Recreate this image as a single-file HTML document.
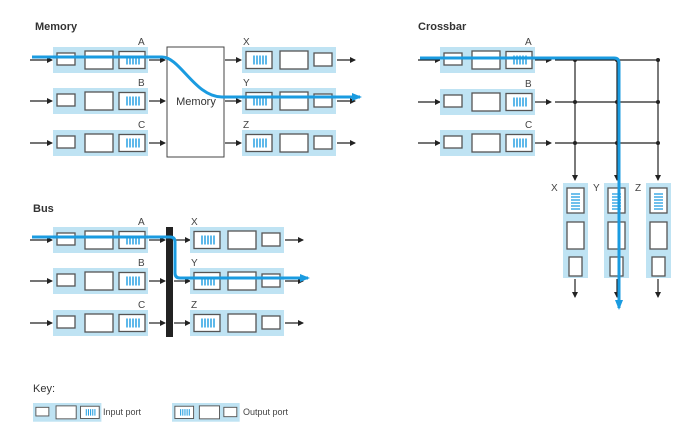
<!DOCTYPE html>
<html><head><meta charset="utf-8"><style>
html,body{margin:0;padding:0;background:#fff;}
svg{display:block;font-family:"Liberation Sans",sans-serif;}
.t{font-weight:bold;font-size:11px;fill:#333;}
.l{font-size:10px;fill:#444;}
</style></head><body>
<svg width="695" height="433" viewBox="0 0 695 433" xmlns="http://www.w3.org/2000/svg">
<defs>
<marker id="ah" markerWidth="6" markerHeight="6" refX="5" refY="3" orient="auto" markerUnits="userSpaceOnUse"><path d="M0,0 L6,3 L0,6z" fill="#222"/></marker>
<marker id="bh" markerWidth="10" markerHeight="8" refX="8" refY="4" orient="auto" markerUnits="userSpaceOnUse"><path d="M0,0 L10,4 L0,8z" fill="#1a9be0"/></marker>
<g id="q"><rect x="0" y="0" width="26" height="17" fill="#fff" stroke="#555" stroke-width="1.3"/><path d="M8,4v9M11,4v9M14,4v9M17,4v9M20,4v9" stroke="#1a9be0" stroke-width="1.4"/></g>
<g id="inp"><rect x="0" y="0" width="95" height="26" fill="#bfe3f3"/>
<rect x="4" y="6" width="18" height="12" fill="#fff" stroke="#555" stroke-width="1.3"/>
<rect x="32" y="4" width="28" height="18" fill="#fff" stroke="#555" stroke-width="1.3"/>
<use href="#q" x="66" y="4.5"/></g>
<g id="outp"><rect x="0" y="0" width="94" height="26" fill="#bfe3f3"/>
<use href="#q" x="4" y="4.5"/>
<rect x="38" y="4" width="28" height="18" fill="#fff" stroke="#555" stroke-width="1.3"/>
<rect x="72" y="6" width="18" height="13" fill="#fff" stroke="#555" stroke-width="1.3"/></g>
<g id="vq"><rect x="0" y="0" width="17" height="25" fill="#fff" stroke="#555" stroke-width="1.3"/><path d="M4,6h9M4,9h9M4,12h9M4,15h9M4,18h9M4,21h9" stroke="#1a9be0" stroke-width="1.3"/></g>
<g id="vout"><rect x="0" y="0" width="25" height="95" fill="#bfe3f3"/>
<use href="#vq" x="4" y="5"/>
<rect x="4" y="39" width="17" height="27" fill="#fff" stroke="#555" stroke-width="1.3"/>
<rect x="6" y="74" width="13" height="19" fill="#fff" stroke="#555" stroke-width="1.3"/></g>
<path id="a22" d="M0,0H22" stroke="#222" stroke-width="1.2" marker-end="url(#ah)"/>
<path id="a16" d="M0,0H16" stroke="#222" stroke-width="1.2" marker-end="url(#ah)"/>
<path id="a18" d="M0,0H18" stroke="#222" stroke-width="1.2" marker-end="url(#ah)"/>
<path id="d37" d="M0,0V37" stroke="#222" stroke-width="1.2" marker-end="url(#ah)"/>
<path id="d18" d="M0,0V18" stroke="#222" stroke-width="1.2" marker-end="url(#ah)"/>
</defs>
<!-- Memory arrows -->
<use href="#a22" x="30" y="60"/><use href="#a22" x="30" y="101"/><use href="#a22" x="30" y="143"/>
<use href="#a16" x="149" y="60"/><use href="#a16" x="149" y="101"/><use href="#a16" x="149" y="143"/>
<use href="#a16" x="225" y="60"/><use href="#a16" x="225" y="101"/><use href="#a16" x="225" y="143"/>
<use href="#a18" x="337" y="60"/><use href="#a18" x="337" y="101"/><use href="#a18" x="337" y="143"/>
<!-- Bus arrows -->
<use href="#a22" x="30" y="240"/><use href="#a22" x="30" y="281"/><use href="#a22" x="30" y="323"/>
<use href="#a16" x="149" y="240"/><use href="#a16" x="149" y="281"/><use href="#a16" x="149" y="323"/>
<use href="#a16" x="174" y="240"/><use href="#a16" x="174" y="281"/><use href="#a16" x="174" y="323"/>
<use href="#a18" x="285" y="240"/><use href="#a18" x="285" y="281"/><use href="#a18" x="285" y="323"/>
<!-- Crossbar -->
<use href="#a22" x="418" y="60"/><use href="#a22" x="418" y="102"/><use href="#a22" x="418" y="143"/>
<use href="#a16" x="535" y="60"/><use href="#a16" x="535" y="102"/><use href="#a16" x="535" y="143"/>
<path d="M555,60H658M555,102H658M555,143H658M575,60V143M617,60V143M658,60V143" stroke="#222" stroke-width="1.2" fill="none"/>
<use href="#d37" x="575" y="143"/><use href="#d37" x="617" y="143"/><use href="#d37" x="658" y="143"/>
<use href="#d18" x="575" y="279"/><use href="#d18" x="617" y="279"/><use href="#d18" x="658" y="279"/>
<g fill="#222"><circle cx="575" cy="60" r="2"/><circle cx="617" cy="60" r="2"/><circle cx="658" cy="60" r="2"/><circle cx="575" cy="102" r="2"/><circle cx="617" cy="102" r="2"/><circle cx="658" cy="102" r="2"/><circle cx="575" cy="143" r="2"/><circle cx="617" cy="143" r="2"/><circle cx="658" cy="143" r="2"/></g>
<text class="t" x="35" y="30">Memory</text>
<use href="#inp" x="53" y="47"/><use href="#inp" x="53" y="88"/><use href="#inp" x="53" y="130"/>
<rect x="167" y="47" width="57" height="110" fill="#fff" stroke="#444" stroke-width="1"/>
<text x="196" y="105" font-size="11" fill="#333" text-anchor="middle">Memory</text>
<use href="#outp" x="242" y="47"/><use href="#outp" x="242" y="88"/><use href="#outp" x="242" y="130"/>
<text class="l" x="138" y="45">A</text><text class="l" x="138" y="86">B</text><text class="l" x="138" y="128">C</text>
<text class="l" x="243" y="45">X</text><text class="l" x="243" y="86">Y</text><text class="l" x="243" y="128">Z</text>
<path d="M32,57H162C180,57 195,97 222,97H360" stroke="#1a9be0" stroke-width="3" fill="none" marker-end="url(#bh)"/>
<!-- Bus -->
<text class="t" x="33" y="212">Bus</text>
<use href="#inp" x="53" y="227"/><use href="#inp" x="53" y="268"/><use href="#inp" x="53" y="310"/>
<rect x="166" y="227" width="7" height="110" fill="#222"/>
<use href="#outp" x="190" y="227"/><use href="#outp" x="190" y="268"/><use href="#outp" x="190" y="310"/>
<text class="l" x="138" y="225">A</text><text class="l" x="138" y="266">B</text><text class="l" x="138" y="308">C</text>
<text class="l" x="191" y="225">X</text><text class="l" x="191" y="266">Y</text><text class="l" x="191" y="308">Z</text>
<path d="M32,237H170Q175,237 175,242V273Q175,278 180,278H308" stroke="#1a9be0" stroke-width="3" fill="none" marker-end="url(#bh)"/>
<!-- Crossbar -->
<text class="t" x="418" y="30">Crossbar</text>
<use href="#inp" x="440" y="47"/><use href="#inp" x="440" y="89"/><use href="#inp" x="440" y="130"/>
<text class="l" x="525" y="45">A</text><text class="l" x="525" y="87">B</text><text class="l" x="525" y="128">C</text>
<use href="#vout" x="563" y="183"/><use href="#vout" x="604" y="183"/><use href="#vout" x="646" y="183"/>
<text class="l" x="551" y="191">X</text><text class="l" x="593" y="191">Y</text><text class="l" x="635" y="191">Z</text>
<path d="M420,58H614Q619,58 619,63V308" stroke="#1a9be0" stroke-width="3" fill="none" marker-end="url(#bh)"/>
<!-- Key -->
<text x="33" y="392" font-size="11" fill="#333">Key:</text>
<g transform="translate(33,403) scale(0.72)"><use href="#inp"/></g>
<text x="103" y="415" font-size="9" fill="#444">Input port</text>
<g transform="translate(172,403) scale(0.72)"><use href="#outp"/></g>
<text x="243" y="415" font-size="9" fill="#444">Output port</text>
</svg>
</body></html>
